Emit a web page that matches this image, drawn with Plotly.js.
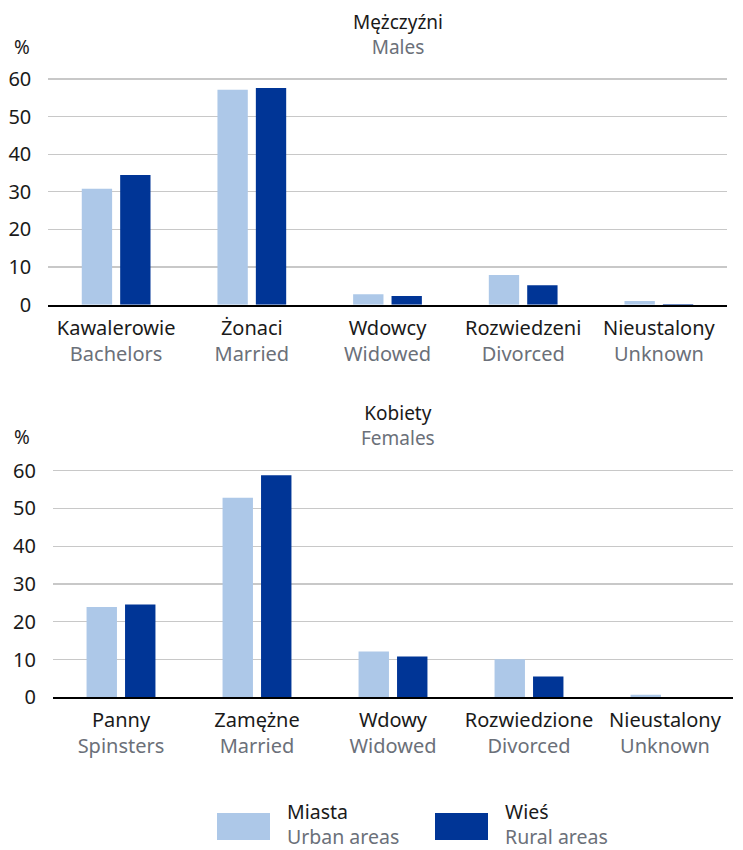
<!DOCTYPE html>
<html>
<head>
<meta charset="utf-8">
<script src="https://cdn.plot.ly/plotly-3.0.1.min.js"></script>
<style>html,body{margin:0;padding:0;background:#fff;}#chart{width:743px;height:850px;}</style>
</head>
<body>
<div id="chart"></div>
<script>
// ---- data ----
const catsMenPl = ['Kawalerowie', 'Żonaci', 'Wdowcy', 'Rozwiedzeni', 'Nieustalony'];
const catsMenEn = ['Bachelors', 'Married', 'Widowed', 'Divorced', 'Unknown'];
const catsWomenPl = ['Panny', 'Zamężne', 'Wdowy', 'Rozwiedzione', 'Nieustalony'];
const catsWomenEn = ['Spinsters', 'Married', 'Widowed', 'Divorced', 'Unknown'];
const menUrban = [30.8, 57.1, 2.8, 7.9, 1.0];
const menRural = [34.5, 57.6, 2.3, 5.2, 0.2];
const womenUrban = [23.9, 52.8, 12.1, 10.1, 0.7];
const womenRural = [24.6, 58.8, 10.8, 5.5, 0.0];
const yTicks = [0, 10, 20, 30, 40, 50, 60];
const seriesPl = ['Miasta', 'Wieś'];
const seriesEn = ['Urban areas', 'Rural areas'];
const titleMen = ['Mężczyźni', 'Males'];
const titleWomen = ['Kobiety', 'Females'];

// ---- style ----
const FONT = 'Noto Sans, Open Sans, sans-serif';
const GRAY = '#6b7079';
const C_URBAN = '#adc8e8';
const C_RURAL = '#003596';
const W = 743, H = 850;

const twoLine = (pl, en) => pl + '<br><span style="color:' + GRAY + '">' + en + '</span>';
const ticktextMen = catsMenPl.map((c, i) => twoLine(c, catsMenEn[i]));
const ticktextWomen = catsWomenPl.map((c, i) => twoLine(c, catsWomenEn[i]));

const traces = [
  {type: 'bar', x: catsMenPl, y: menUrban, marker: {color: C_URBAN}, xaxis: 'x', yaxis: 'y', name: seriesPl[0], hoverinfo: 'y'},
  {type: 'bar', x: catsMenPl, y: menRural, marker: {color: C_RURAL}, xaxis: 'x', yaxis: 'y', name: seriesPl[1], hoverinfo: 'y'},
  {type: 'bar', x: catsWomenPl, y: womenUrban, marker: {color: C_URBAN}, xaxis: 'x2', yaxis: 'y2', name: seriesPl[0], hoverinfo: 'y'},
  {type: 'bar', x: catsWomenPl, y: womenRural, marker: {color: C_RURAL}, xaxis: 'x2', yaxis: 'y2', name: seriesPl[1], hoverinfo: 'y'}
];

const xBase = {
  type: 'category', showgrid: false, showline: true, linecolor: '#000', linewidth: 2,
  ticks: 'outside', ticklen: 4, tickcolor: 'rgba(0,0,0,0)',
  tickfont: {family: FONT, size: 20, color: '#1a1a1a'}, fixedrange: true
};
const yBase = {
  range: [0, 61], tickvals: yTicks, showgrid: true, gridcolor: '#c8c8c8', gridwidth: 1.3,
  zeroline: false, showline: false, ticks: 'outside', ticklen: 12, tickcolor: 'rgba(0,0,0,0)',
  tickfont: {family: FONT, size: 20, color: '#1a1a1a'}, fixedrange: true
};

const layout = {
  width: W, height: H,
  margin: {l: 0, r: 0, t: 0, b: 0},
  paper_bgcolor: '#fff', plot_bgcolor: '#fff',
  showlegend: false,
  barmode: 'group', bargap: 0.434, bargroupgap: 0.21,
  font: {family: FONT, size: 20, color: '#1a1a1a'},
  xaxis: Object.assign({}, xBase, {domain: [48.3 / W, 726.7 / W], anchor: 'y', tickvals: catsMenPl, ticktext: ticktextMen}),
  yaxis: Object.assign({}, yBase, {domain: [1 - 304.7 / H, 1 - 75.2 / H], anchor: 'x'}),
  xaxis2: Object.assign({}, xBase, {domain: [53 / W, 733 / W], anchor: 'y2', tickvals: catsWomenPl, ticktext: ticktextWomen}),
  yaxis2: Object.assign({}, yBase, {domain: [1 - 697.3 / H, 1 - 466.9 / H], anchor: 'x2'}),
  shapes: [
    {type: 'rect', xref: 'paper', yref: 'paper', x0: 217 / W, x1: 270 / W, y0: 1 - 840 / H, y1: 1 - 813 / H, fillcolor: C_URBAN, line: {width: 0}},
    {type: 'rect', xref: 'paper', yref: 'paper', x0: 435 / W, x1: 488 / W, y0: 1 - 840 / H, y1: 1 - 813 / H, fillcolor: C_RURAL, line: {width: 0}}
  ],
  annotations: [
    {xref: 'paper', yref: 'paper', x: 398 / W, y: 1 - 35 / H, xanchor: 'center', yanchor: 'middle', showarrow: false,
     text: twoLine(titleMen[0], titleMen[1]), font: {family: FONT, size: 19, color: '#1a1a1a'}},
    {xref: 'paper', yref: 'paper', x: 398 / W, y: 1 - 425 / H, xanchor: 'center', yanchor: 'middle', showarrow: false,
     text: twoLine(titleWomen[0], titleWomen[1]), font: {family: FONT, size: 19, color: '#1a1a1a'}},
    {xref: 'paper', yref: 'paper', x: 12 / W, y: 1 - 47 / H, xanchor: 'left', yanchor: 'middle', showarrow: false,
     text: '%', font: {family: FONT, size: 19, color: '#1a1a1a'}},
    {xref: 'paper', yref: 'paper', x: 12 / W, y: 1 - 437 / H, xanchor: 'left', yanchor: 'middle', showarrow: false,
     text: '%', font: {family: FONT, size: 19, color: '#1a1a1a'}},
    {xref: 'paper', yref: 'paper', x: 286 / W, y: 1 - 824 / H, xanchor: 'left', yanchor: 'middle', showarrow: false, align: 'left',
     borderpad: 0, text: twoLine(seriesPl[0], seriesEn[0]), font: {family: FONT, size: 19.5, color: '#1a1a1a'}},
    {xref: 'paper', yref: 'paper', x: 504 / W, y: 1 - 824 / H, xanchor: 'left', yanchor: 'middle', showarrow: false, align: 'left',
     borderpad: 0, text: twoLine(seriesPl[1], seriesEn[1]), font: {family: FONT, size: 19.5, color: '#1a1a1a'}}
  ]
};

Plotly.newPlot('chart', traces, layout, {displayModeBar: false, staticPlot: true});
</script>
</body>
</html>
